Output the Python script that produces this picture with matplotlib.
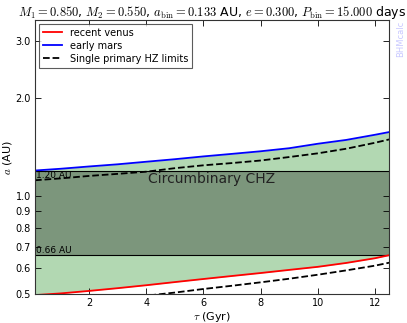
import matplotlib
matplotlib.use("Agg")
import matplotlib.pyplot as plt
import numpy as np

plt.rcParams['mathtext.fontset'] = 'cm'

# ---- data ----
tau = [0.1, 1, 2, 3, 4, 5, 6, 7, 8, 9, 10, 11, 12, 12.5]
recent_venus = [0.497, 0.503, 0.512, 0.522, 0.533, 0.545, 0.557, 0.569, 0.581, 0.594, 0.607, 0.624, 0.645, 0.659]
early_mars = [1.200, 1.215, 1.235, 1.254, 1.277, 1.300, 1.326, 1.350, 1.375, 1.405, 1.450, 1.490, 1.545, 1.575]
single_inner = [0.462, 0.468, 0.475, 0.483, 0.495, 0.506, 0.519, 0.531, 0.544, 0.558, 0.574, 0.592, 0.612, 0.625]
single_outer = [1.120, 1.135, 1.155, 1.172, 1.190, 1.220, 1.245, 1.265, 1.288, 1.320, 1.355, 1.400, 1.460, 1.495]
chz_in, chz_out = 0.66, 1.20
yticks = [0.5, 0.6, 0.7, 0.8, 0.9, 1.0, 2.0, 3.0]
xticks = [2, 4, 6, 8, 10, 12]

fig = plt.figure(figsize=(4.07, 3.23), dpi=100)
ax = fig.add_axes([0.086, 0.089, 0.870, 0.849])

ax.fill_between(tau, recent_venus, early_mars, color='g', alpha=0.3, lw=0)
ax.axhspan(chz_in, chz_out, color='k', alpha=0.3, lw=0)
ax.axhline(chz_in, color='k', lw=0.8)
ax.axhline(chz_out, color='k', lw=0.8)

ax.plot(tau, recent_venus, color='r', lw=1.3, label='recent venus')
ax.plot(tau, early_mars, color='b', lw=1.3, label='early mars')
ax.plot(tau, single_inner, 'k--', lw=1.3, label='Single primary HZ limits')
ax.plot(tau, single_outer, 'k--', lw=1.3)

ax.set_yscale('log')
ax.set_xlim(0.1, 12.5)
ax.set_ylim(0.5, 3.48)
ax.set_yticks(yticks)
ax.set_yticklabels(['%.1f' % v for v in yticks])
ax.yaxis.set_minor_locator(matplotlib.ticker.NullLocator())
ax.set_xticks(xticks)
ax.tick_params(direction='in', length=4, width=0.6, labelsize=7,
               top=True, right=True, colors='k', pad=3)
for s in ax.spines.values():
    s.set_linewidth(0.8)
    s.set_color('#333333')

ax.text(0.12, chz_out, '1.20 AU', fontsize=6.5, ha='left', va='top')
ax.text(0.12, chz_in, '0.66 AU', fontsize=6.5, ha='left', va='bottom')
ax.text(6.3, chz_out - 0.01, 'Circumbinary CHZ', fontsize=10, ha='center', va='top', color='#222222')

ax.set_xlabel(r'$\tau$ (Gyr)', fontsize=8, labelpad=1)
ax.set_ylabel(r'$a$ (AU)', fontsize=8, labelpad=1)
ax.set_title(r'$M_1=0.850$, $M_2=0.550$, $a_{\rm bin}=0.133$ AU, $e=0.300$, $P_{\rm bin}=15.000$ days',
             fontsize=9, pad=3)

leg = ax.legend(loc='upper left', fontsize=7, frameon=True, fancybox=False,
                handlelength=2.0, borderaxespad=0.4, labelspacing=0.3)
leg.get_frame().set_edgecolor('#333333')
leg.get_frame().set_linewidth(0.8)

fig.text(0.985, 0.935, 'BHMcalc', rotation=90, color='#c8c8ff', fontsize=6, ha='center', va='top')

fig.savefig('out.png', dpi=100)
